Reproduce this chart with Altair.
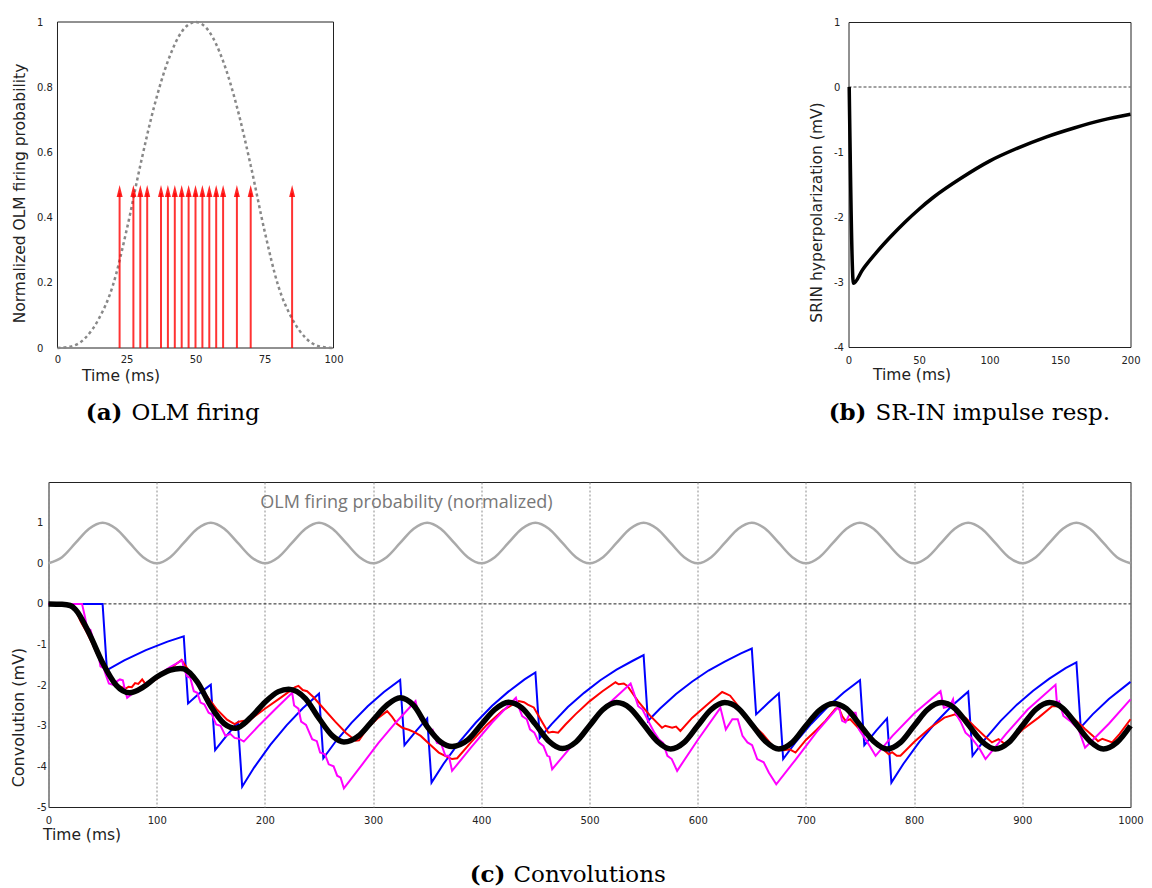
import altair as alt
import pandas as pd

# ---------------- Panel (a): OLM firing ----------------
a_time = [0, 5, 10, 15, 20, 25, 30, 35, 40, 45, 50, 55, 60, 65, 70, 75, 80, 85, 90, 95, 100]
a_prob = [0, 0.005, 0.03, 0.09, 0.19, 0.36, 0.56, 0.74, 0.88, 0.97, 1.0,
          0.97, 0.88, 0.74, 0.56, 0.36, 0.19, 0.09, 0.03, 0.005, 0]
spike_times = [22.5, 27.5, 30, 32.5, 37.5, 40, 42.5, 45, 47.5, 50, 52.5, 55, 57.5, 60, 65, 70, 85]
spike_top = 0.5

# ---------------- Panel (b): SR-IN impulse response ----------------
b_time = [0.5, 3.5, 10, 20, 30, 40, 50, 60, 80, 100, 120, 140, 160, 180, 200]
b_resp = [0, -3.02, -2.81, -2.54, -2.30, -2.08, -1.88, -1.70, -1.40, -1.14, -0.94, -0.77, -0.63, -0.51, -0.42]

# ---------------- Panel (c): convolutions ----------------
olm_time = [i * 12.5 for i in range(81)]
olm_prob = [0, 0.15, 0.5, 0.85, 1.0, 0.85, 0.5, 0.15,
            0, 0.15, 0.5, 0.85, 1.0, 0.85, 0.5, 0.15,
            0, 0.15, 0.5, 0.85, 1.0, 0.85, 0.5, 0.15,
            0, 0.15, 0.5, 0.85, 1.0, 0.85, 0.5, 0.15,
            0, 0.15, 0.5, 0.85, 1.0, 0.85, 0.5, 0.15,
            0, 0.15, 0.5, 0.85, 1.0, 0.85, 0.5, 0.15,
            0, 0.15, 0.5, 0.85, 1.0, 0.85, 0.5, 0.15,
            0, 0.15, 0.5, 0.85, 1.0, 0.85, 0.5, 0.15,
            0, 0.15, 0.5, 0.85, 1.0, 0.85, 0.5, 0.15,
            0, 0.15, 0.5, 0.85, 1.0, 0.85, 0.5, 0.15,
            0]
olm_shift = 1.0  # the probability trace is drawn one unit above zero

blue_t = [0, 50, 54, 70, 90, 110, 125, 129, 140, 150, 154, 165, 175, 179, 190, 205, 220, 235, 250,
          254, 265, 280, 295, 310, 325, 329, 340, 350, 354, 365, 380, 395, 410, 425, 440, 450,
          454, 465, 480, 495, 510, 525, 540, 550, 554, 565, 580, 595, 610, 625, 640, 650,
          654, 665, 675, 679, 690, 705, 720, 735, 750, 754, 765, 775, 779, 790, 805, 820, 835, 850,
          854, 865, 880, 895, 910, 925, 940, 950, 954, 965, 980, 1000]
blue_v = [0, 0, -1.63, -1.39, -1.14, -0.93, -0.80, -2.45, -2.19, -1.99, -3.6, -3.23, -2.92,
          -4.5, -4.03, -3.47, -2.99, -2.57, -2.21, -3.8, -3.40, -2.93, -2.52, -2.17, -1.87,
          -3.48, -3.12, -2.82, -4.4, -3.94, -3.39, -2.92, -2.51, -2.16, -1.86, -1.69,
          -3.3, -2.96, -2.54, -2.19, -1.88, -1.62, -1.40, -1.26, -2.88, -2.58, -2.22, -1.91,
          -1.64, -1.42, -1.22, -1.10, -2.72, -2.44, -2.20, -3.82, -3.42, -2.95, -2.54, -2.18,
          -1.88, -3.48, -3.12, -2.82, -4.4, -3.94, -3.39, -2.92, -2.51, -2.16,
          -3.74, -3.35, -2.88, -2.48, -2.14, -1.84, -1.58, -1.44, -3.04, -2.72, -2.34, -1.92]

red_t = [0, 20, 25, 30, 35, 40, 45, 50, 55, 60, 65, 71, 74, 77, 80, 83, 86.6, 89, 92, 100, 110, 123,
         126, 135, 145, 155, 165, 172, 176, 180, 183, 188, 200, 215, 228, 231, 235, 239, 245, 255,
         265, 275, 284, 287, 295, 305, 313, 317.6, 322, 327, 333, 339, 344, 352, 360.7, 367, 373,
         377.7, 390, 405, 420, 434.7, 439.5, 443, 448.5, 455, 462, 466, 471, 477.8, 487, 500, 512,
         524, 527, 531.7, 535, 545, 556, 567, 570, 576.4, 580, 584, 595, 610, 622.6, 627, 630, 640,
         650, 660, 672, 676, 680, 685, 690.4, 700, 710, 718, 727.4, 730.4, 733.5, 736.6, 741, 750,
         760, 770, 776.6, 779.7, 784, 787.4, 800, 815, 828, 838, 841, 847.5, 855, 865, 872, 878,
         884, 887, 900, 915, 927.6, 933.7, 940, 950, 958, 965.3, 970, 974, 983, 990, 1000]
red_v = [0, -0.02, -0.15, -0.45, -0.68, -0.95, -1.25, -1.5, -1.75, -1.92, -2.02, -2.09, -2.04,
         -2.05, -1.95, -1.97, -1.86, -1.95, -1.98, -1.85, -1.64, -1.38, -1.5, -1.85, -2.22, -2.58,
         -2.85, -2.96, -2.9, -2.88, -2.95, -2.82, -2.58, -2.3, -2.05, -2.02, -2.12, -2.15, -2.3,
         -2.6, -2.9, -3.18, -3.37, -3.36, -3.05, -2.8, -2.64, -2.78, -2.95, -3.05, -3.1, -3.17,
         -3.25, -3.45, -3.66, -3.75, -3.82, -3.8, -3.42, -2.98, -2.62, -2.39, -2.42, -2.48, -2.55,
         -2.85, -3.17, -3.15, -3.17, -2.97, -2.72, -2.4, -2.15, -1.93, -1.98, -1.96, -2.02, -2.4,
         -2.75, -3.05, -3.0, -3.05, -3.02, -3.13, -2.8, -2.45, -2.17, -2.22, -2.26, -2.6, -2.95,
         -3.2, -3.58, -3.54, -3.6, -3.58, -3.66, -3.35, -3.1, -2.88, -2.58, -2.56, -2.76, -2.88,
         -2.84, -3.1, -3.3, -3.55, -3.7, -3.65, -3.74, -3.74, -3.4, -3.05, -2.8, -2.72, -2.78,
         -2.8, -3.0, -3.25, -3.41, -3.33, -3.45, -3.45, -3.1, -2.8, -2.52, -2.52, -2.64, -2.88,
         -3.08, -3.25, -3.38, -3.32, -3.41, -3.2, -2.84]

mag_t = [0, 31, 33.6, 35.7, 38.8, 40.5, 41.9, 45, 46.5, 48, 51, 53, 55.8, 60.4, 63.5, 66, 68.7,
         70.5, 72.7, 85, 100, 112, 123.5, 125, 128, 131, 134.3, 137.5, 140.5, 144, 148, 151, 155,
         159, 163.6, 168, 172, 176, 180.5, 195, 210, 225.2, 227, 231, 233.5, 238, 243.7, 248, 251,
         255.5, 259, 263.5, 266.8, 270, 273, 290, 305, 320, 339.2, 341, 343.8, 347, 351.5, 355,
         359, 363, 366.8, 370, 373, 390, 410, 432, 434, 437.8, 442, 445, 449, 453.2, 457.5, 461,
         463, 465.5, 485, 510, 538, 541, 545, 549, 555, 560, 564, 568, 572, 576, 581, 600, 621,
         626, 632, 637, 641.4, 646, 650.3, 655, 661, 665.7, 672.6, 690, 710, 730.4, 733.5, 736.6,
         741, 746, 749, 755, 759, 764.4, 780, 800, 824.4, 827.5, 833, 836, 838, 843, 847.5, 853,
         860, 866, 885, 905, 930.7, 932, 934, 938, 945, 952, 958, 980, 1000]
mag_v = [0, 0, -0.31, -0.6, -0.64, -0.8, -1.05, -1.11, -1.3, -1.54, -1.58, -1.75, -1.96, -2.0,
         -1.9, -1.86, -1.88, -2.1, -2.31, -2.05, -1.78, -1.56, -1.39, -1.58, -1.78, -1.82, -2.15,
         -2.19, -2.43, -2.47, -2.68, -2.72, -2.97, -3.0, -3.25, -3.2, -3.3, -3.32, -3.39, -2.98,
         -2.58, -2.19, -2.5, -2.58, -2.9, -2.98, -3.33, -3.38, -3.66, -3.7, -3.95, -4.0, -4.23,
         -4.28, -4.54, -3.95, -3.42, -2.95, -2.39, -2.6, -2.84, -2.88, -3.13, -3.1, -3.42, -3.45,
         -3.74, -3.74, -4.11, -3.55, -2.92, -2.31, -2.5, -2.76, -2.84, -3.09, -3.17, -3.41, -3.5,
         -3.74, -3.76, -4.07, -3.45, -2.65, -1.96, -2.19, -2.52, -2.6, -2.92, -3.17, -3.33, -3.42,
         -3.74, -3.82, -4.11, -3.35, -2.56, -3.09, -2.84, -2.84, -3.25, -3.41, -3.48, -3.82, -3.9,
         -4.15, -4.44, -3.85, -3.15, -2.52, -2.88, -2.92, -2.68, -2.68, -3.09, -3.33, -3.5, -3.74,
         -3.25, -2.7, -2.15, -2.56, -2.52, -2.35, -2.68, -2.9, -3.17, -3.3, -3.54, -3.82, -3.2,
         -2.6, -1.99, -2.44, -2.4, -2.76, -2.9, -3.09, -3.54, -2.95, -2.35]

black_t = [0, 12.5, 20, 25, 37.5, 50, 62.5, 75, 87.5, 100, 112.5, 122, 125, 137.5, 150, 162.5, 173,
           187.5, 200, 212.5, 222, 237.5, 250, 262.5, 273, 287.5, 300, 312.5, 325, 337.5, 350,
           362.5, 373, 387.5, 400, 412.5, 425, 437.5, 450, 462.5, 475, 487.5, 500, 512.5, 525,
           537.5, 550, 562.5, 575, 587.5, 600, 612.5, 625, 637.5, 650, 662.5, 675, 687.5, 700,
           712.5, 725, 737.5, 750, 762.5, 775, 787.5, 800, 812.5, 825, 837.5, 850, 862.5, 875,
           887.5, 900, 912.5, 925, 937.5, 950, 962.5, 975, 987.5, 1000]
black_v = [0, -0.01, -0.04, -0.14, -0.72, -1.45, -2.0, -2.19, -2.05, -1.8, -1.63, -1.59, -1.6,
           -1.92, -2.52, -2.95, -3.06, -2.78, -2.42, -2.16, -2.1, -2.33, -2.82, -3.25, -3.4, -3.23,
           -2.86, -2.5, -2.31, -2.5, -3.02, -3.4, -3.51, -3.35, -2.97, -2.6, -2.42, -2.56, -2.96,
           -3.38, -3.56, -3.4, -3.0, -2.6, -2.43, -2.57, -2.97, -3.38, -3.57, -3.41, -3.0, -2.6,
           -2.43, -2.57, -2.97, -3.38, -3.57, -3.41, -3.0, -2.62, -2.45, -2.58, -2.98, -3.38,
           -3.57, -3.41, -3.0, -2.6, -2.43, -2.57, -2.97, -3.38, -3.57, -3.41, -3.0, -2.6, -2.43,
           -2.57, -2.97, -3.38, -3.57, -3.41, -3.0]

olm_caption = "OLM firing probability (normalized)"

LABEL_COLOR = "#222222"
FRAME_COLOR = "#222222"
SERIF = "DejaVu Serif"


def time_axis(values, title_x, pad, grid=False):
    kw = dict(values=values, title="Time (ms)", titleX=title_x, titleY=20, titleAlign="left",
              titleBaseline="top", titleAngle=0, titleFontSize=15.5, labelPadding=pad,
              ticks=False, tickSize=0, domain=False, labelFlush=False, labelOverlap=False,
              grid=grid, format="d")
    if grid:
        kw.update(gridDash=[2, 2], gridColor="#8a8a8a", gridWidth=1)
    return alt.Axis(**kw)


def value_axis(values, title, title_x, title_y, pad, size=15.5, expr=None, fmt=None):
    kw = dict(values=values, title=title, titleX=title_x, titleY=title_y, titleAngle=270,
              titleAlign="center", titleBaseline="middle", titleFontSize=size,
              labelAlign="left", labelPadding=pad, ticks=False, tickSize=0, domain=False,
              grid=False, labelOverlap=False)
    if expr:
        kw["labelExpr"] = expr
    if fmt:
        kw["format"] = fmt
    return alt.Axis(**kw)


def caption(bold, rest, x_gap_left, x_gap_right, y):
    one = pd.DataFrame({"s": [bold]})
    two = pd.DataFrame({"s": [rest]})
    c1 = alt.Chart(one).mark_text(align="right", baseline="middle", font=SERIF,
                                  fontWeight="bold", fontSize=23, color="black").encode(
        x=alt.value(x_gap_left), y=alt.value(y), text="s:N")
    c2 = alt.Chart(two).mark_text(align="left", baseline="middle", font=SERIF,
                                  fontSize=23, color="black").encode(
        x=alt.value(x_gap_right), y=alt.value(y), text="s:N")
    return [c1, c2]


# ---------- Panel (a) ----------
# the view of panel (a) starts a little left of t=0 so that its origin lines up with panel (c);
# its visible frame is drawn over the data range 0..100 x 0..1
xa = alt.X("t:Q", scale=alt.Scale(domain=[-3.26, 100], nice=False, zero=False),
           axis=time_axis([0, 25, 50, 75, 100], 33, 6))


def ya(field):
    return alt.Y(field, type="quantitative", scale=alt.Scale(domain=[0, 1], nice=False),
                 axis=value_axis([0, 0.2, 0.4, 0.6, 0.8, 1.0], "Normalized OLM firing probability",
                                 -29, 171, 12, fmt="~g"))


frame_a = alt.Chart(pd.DataFrame({"t": [0], "t1": [100], "p": [0], "p1": [1]})).mark_rect(
    fillOpacity=0, stroke=FRAME_COLOR, strokeWidth=1).encode(x=xa, x2="t1:Q", y=ya("p"), y2="p1:Q")
df_a = pd.DataFrame({"t": a_time, "p": a_prob})
curve_a = alt.Chart(df_a).mark_line(color="#888888", strokeWidth=2.5, strokeDash=[3, 3],
                                    interpolate="monotone").encode(x=xa, y=ya("p"))
df_sp = pd.DataFrame({"t": spike_times, "p": [spike_top] * len(spike_times),
                      "p0": [0] * len(spike_times)})
rules_a = alt.Chart(df_sp).transform_calculate(pe="datum.p - 0.025").mark_rule(
    color="#ff0000", strokeWidth=2, opacity=0.8).encode(x=xa, y=ya("p0"), y2="pe:Q")
heads_a = alt.Chart(df_sp).mark_point(shape="M0,-1L-0.5,1L0.5,1Z", filled=True, size=144,
                                      color="#ff0000", opacity=0.85, strokeWidth=0,
                                      yOffset=6).encode(x=xa, y=ya("p"))
panel_a = alt.layer(frame_a, curve_a, rules_a, heads_a,
                    *caption("(a)", "OLM firing", 74, 83, 391)).properties(
    width=285, height=326, view=alt.ViewBackground(stroke="transparent"))

# ---------- Panel (b) ----------
xb = alt.X("t:Q", scale=alt.Scale(domain=[0, 200], nice=False), axis=time_axis([0, 50, 100, 150, 200], 24, 8))
yb = alt.Y("v:Q", scale=alt.Scale(domain=[-4, 1], nice=False),
           axis=value_axis([-4, -3, -2, -1, 0, 1], "SRIN hyperpolarization (mV)", -32.5, 190, 15,
                           expr="'' + datum.value"))
df_b = pd.DataFrame({"t": b_time, "v": b_resp})
curve_b = alt.Chart(df_b).mark_line(color="black", strokeWidth=3.5, interpolate="monotone").encode(x=xb, y=yb)
zero_b = alt.Chart(pd.DataFrame({"t": [0], "t1": [200], "v": [0]})).mark_rule(
    color="#444444", strokeWidth=1.2, strokeDash=[3, 2]).encode(x=xb, x2="t1:Q", y=yb)
panel_b = alt.layer(zero_b, curve_b, *caption("(b)", "SR-IN impulse resp.", 18, 27, 391)).properties(
    width=282, height=325)

# ---------- Panel (c) ----------
xc = alt.X("t:Q", scale=alt.Scale(domain=[0, 1000], nice=False),
           axis=time_axis(list(range(0, 1001, 100)), -6, 8, grid=True))
yc = alt.Y("v:Q", scale=alt.Scale(domain=[-5, 3], nice=False),
           axis=value_axis([-5, -4, -3, -2, -1, 0, 1, 2], "Convolution (mV)", -30.5, 235, 12, size=16,
                           expr="datum.value == 2 ? '1' : datum.value == 1 ? '0' : '' + datum.value"))

df_olm = pd.DataFrame({"t": olm_time, "v": [olm_shift + p for p in olm_prob]})
olm_line = alt.Chart(df_olm).mark_line(color="#aaaaaa", strokeWidth=2.5, interpolate="monotone").encode(x=xc, y=yc)
zero_c = alt.Chart(pd.DataFrame({"t": [0], "t1": [1000], "v": [0]})).mark_rule(
    color="#222222", strokeWidth=1, strokeDash=[3, 2]).encode(x=xc, x2="t1:Q", y=yc)
blue_line = alt.Chart(pd.DataFrame({"t": blue_t, "v": blue_v})).mark_line(
    color="#0000ff", strokeWidth=2).encode(x=xc, y=yc)
red_line = alt.Chart(pd.DataFrame({"t": red_t, "v": red_v})).mark_line(
    color="#ff0000", strokeWidth=2).encode(x=xc, y=yc)
mag_line = alt.Chart(pd.DataFrame({"t": mag_t, "v": mag_v})).mark_line(
    color="#ff00ff", strokeWidth=2).encode(x=xc, y=yc)
black_line = alt.Chart(pd.DataFrame({"t": black_t, "v": black_v})).mark_line(
    color="black", strokeWidth=5.5, interpolate="monotone").encode(x=xc, y=yc)
olm_text = alt.Chart(pd.DataFrame({"s": [olm_caption]})).mark_text(
    font="Open Sans", fontSize=18, color="#777777", align="center", baseline="middle").encode(
    x=alt.value(358), y=alt.value(21), text="s:N")

panel_c = alt.layer(olm_line, zero_c, blue_line, red_line, mag_line, black_line, olm_text,
                    *caption("(c)", "Convolutions", 457, 465, 393)).properties(width=1082, height=325)

top = alt.hconcat(panel_a, panel_b, spacing=463)
chart = alt.vconcat(top, panel_c, spacing=55).properties(
    padding={"left": 9.5, "top": 16, "right": 0, "bottom": 0}
).configure_view(stroke=FRAME_COLOR, strokeWidth=1).configure_axis(
    labelFont="DejaVu Sans", labelFontSize=10, labelColor=LABEL_COLOR,
    titleFont="DejaVu Sans", titleColor=LABEL_COLOR, titleFontWeight="normal"
)

chart.save("out.html", embed_options={"renderer": "svg", "actions": False})
